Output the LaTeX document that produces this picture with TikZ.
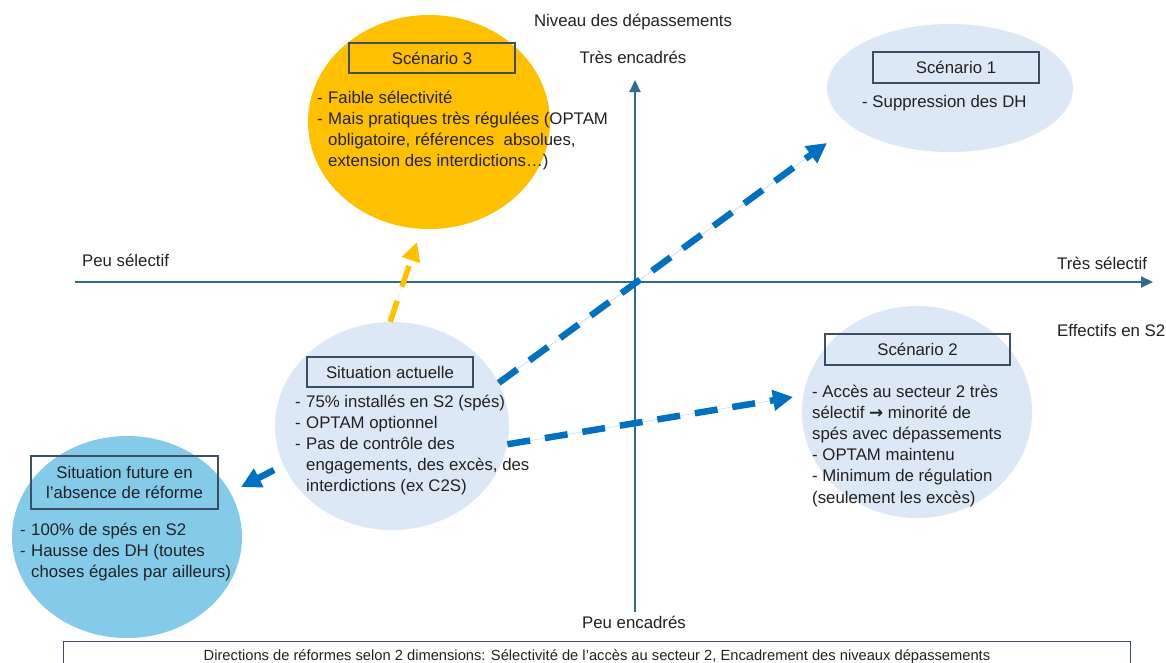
\documentclass[tikz,border=0pt]{standalone}
\usepackage{fontspec}
\setmainfont{Liberation Sans}
\newfontfamily\symfont{DejaVu Sans}
\usetikzlibrary{arrows.meta,shapes.geometric}
\definecolor{axisc}{RGB}{46,108,140}
\definecolor{paleblue}{HTML}{DCE8F5}
\definecolor{skyblue}{HTML}{84CBEA}
\definecolor{gold}{HTML}{FFC000}
\definecolor{arrowblue}{HTML}{0070C0}
\definecolor{boxc}{HTML}{3F4F63}
\definecolor{txtc}{HTML}{222222}
\begin{document}
\begin{tikzpicture}[x=1pt,y=-1pt,
  blob/.style={ellipse,inner sep=0pt,draw=none},
  tbox/.style={draw=boxc,line width=1.1pt,inner sep=0pt,text=txtc,font=\fontsize{16.8}{20}\selectfont},
  txt/.style={inner sep=0pt,text=txtc,font=\fontsize{16.8}{21.2}\selectfont},
  lbl/.style={inner sep=0pt,text=txtc,font=\fontsize{16.8}{20}\selectfont},
  axis/.style={draw=axisc,line width=2pt,-{Triangle[length=12pt,width=11pt]}},
  bluedash/.style={draw=arrowblue,fill=arrowblue,line width=6.5pt,dash pattern=on 23pt off 15pt,-{Triangle[length=20pt,width=20pt]}},
  golddash/.style={draw=gold,fill=gold,line width=5.5pt,dash pattern=on 22pt off 15pt,-{Triangle[length=19pt,width=18pt]}}
]
\useasboundingbox (0,0) rectangle (1166,662);
\fill[white] (0,0) rectangle (1166,662);

% ellipses
\node[blob,fill=gold,minimum width=242pt,minimum height=214pt] (s3) at (429,122) {};
\node[blob,fill=paleblue,minimum width=246pt,minimum height=128pt] (s1) at (950,88) {};
\node[blob,fill=paleblue,minimum width=234pt,minimum height=208pt] (sa) at (392,426) {};
\node[blob,fill=paleblue,minimum width=230pt,minimum height=212pt] (s2) at (917,412) {};
\node[blob,fill=skyblue,minimum width=230pt,minimum height=202pt] (sf) at (127,537) {};

% axes
\coordinate (hl) at (75,282);
\coordinate (hr) at (1153,282);
\coordinate (vb) at (635,612);
\coordinate (vt) at (635,80);
\draw[axis] (hl) -- (hr);
\draw[axis] (vb) -- (vt);

% axis labels
\node[lbl,anchor=base] (niv) at (633,26) {Niveau des dépassements};
\node[lbl,anchor=base] (tenc) at (633,63) {Très encadrés};
\node[lbl,anchor=base west] (psel) at (82,266) {Peu sélectif};
\node[lbl,anchor=base west] (tsel) at (1057,269) {Très sélectif};
\node[lbl,anchor=base west] (eff) at (1057,336) {Effectifs en S2};
\node[lbl,anchor=base] (penc) at (634,628) {Peu encadrés};

% arrows
\coordinate (t3) at (417,242);
\coordinate (t1) at (827,143);
\coordinate (t2) at (793,397);
\coordinate (tf) at (241,487);
\coordinate (fs) at (274,470);
\draw[golddash] (sa.91) -- (t3);
\draw[bluedash] (sa.22) -- (t1);
\draw[bluedash] (sa.-9) -- (t2);
\draw[bluedash,dash pattern=on 22pt off 0pt] (fs) -- (tf);

% title boxes
\node[tbox,minimum width=166pt,minimum height=30pt] (s3t) at (432,58) {Scénario 3};
\node[tbox,minimum width=166pt,minimum height=31pt] (s1t) at (956,67.5) {Scénario 1};
\node[tbox,minimum width=166pt,minimum height=30pt] (sat) at (390,372) {Situation actuelle};
\node[tbox,minimum width=185pt,minimum height=31pt] (s2t) at (917.5,349.5) {Scénario 2};
\node[tbox,minimum width=187pt,minimum height=53pt,align=center] (sft) at (124.5,482.5) {Situation future en\\l’absence de réforme};

% texts
\node[txt,anchor=base west] (s3x) at (317,103) {\begin{tabular}[t]{@{}l@{\hspace{5.4pt}}l@{}}
-& Faible sélectivité\\
-& Mais pratiques très régulées (OPTAM\\
 & obligatoire, références~~absolues,\\
 & extension des interdictions…)
\end{tabular}};
\node[txt,anchor=base west] (s1x) at (862,107) {- Suppression des DH};
\node[txt,anchor=base west] (sax) at (295,407) {\begin{tabular}[t]{@{}l@{\hspace{5.4pt}}l@{}}
-& 75\% installés en S2 (spés)\\
-& OPTAM optionnel\\
-& Pas de contrôle des\\
 & engagements, des excès, des\\
 & interdictions (ex C2S)
\end{tabular}};
\node[txt,anchor=base west] (s2x) at (812,397) {\begin{tabular}[t]{@{}l@{}}
- Accès au secteur 2 très\\
sélectif {\symfont\bfseries →} minorité de\\
spés avec dépassements\\
- OPTAM maintenu\\
- Minimum de régulation\\
(seulement les excès)
\end{tabular}};
\node[txt,anchor=base west] (sfx) at (20,535) {\begin{tabular}[t]{@{}l@{\hspace{5.4pt}}l@{}}
-& 100\% de spés en S2\\
-& Hausse des DH (toutes\\
 & choses égales par ailleurs)
\end{tabular}};

% caption box
\node[draw=boxc,line width=1pt,minimum width=1067pt,minimum height=30pt,anchor=north west,inner sep=0pt,text=txtc,font=\fontsize{14.7}{16}\selectfont] (cap) at (63,641) {Directions de réformes selon 2 dimensions: Sélectivité de l’accès au secteur 2, Encadrement des niveaux dépassements};
\end{tikzpicture}
\end{document}
